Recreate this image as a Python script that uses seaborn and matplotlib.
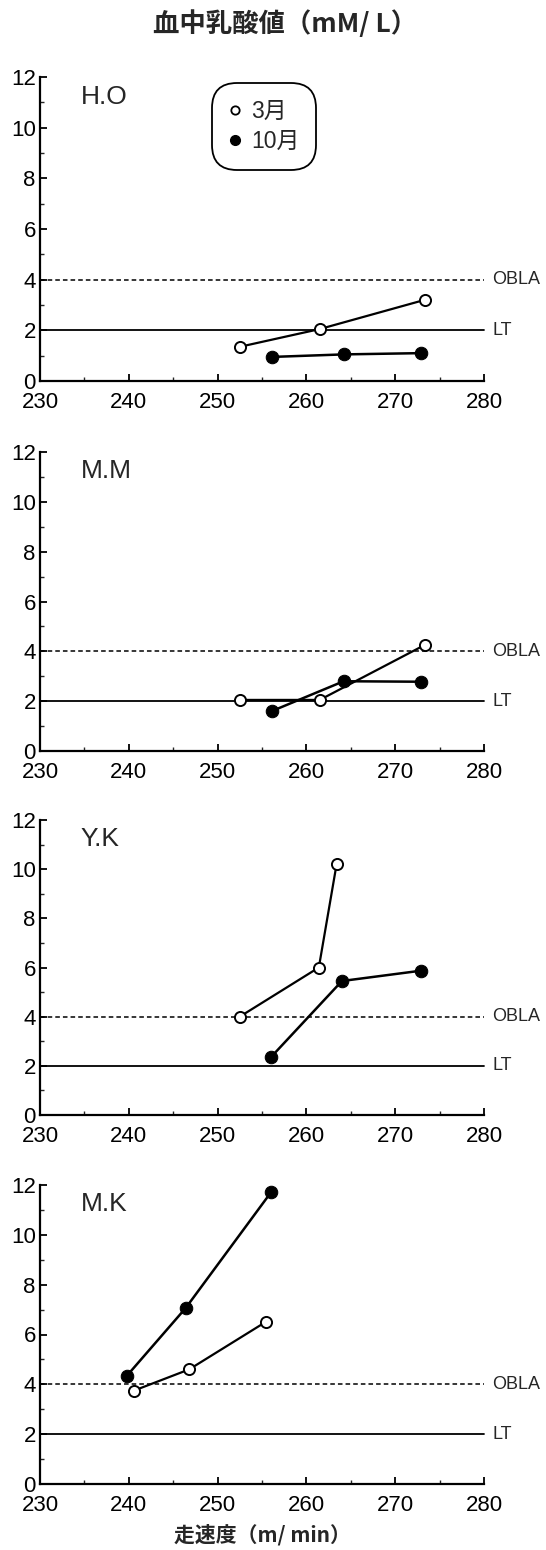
import matplotlib
matplotlib.use("Agg")
import matplotlib.pyplot as plt
from matplotlib.ticker import MultipleLocator
from matplotlib.lines import Line2D
import seaborn as sns
import pandas as pd

sns.set_theme(style="ticks")
plt.rcParams['font.family'] = ['Liberation Sans', 'Noto Sans CJK JP', 'DejaVu Sans']

subjects = ["H.O", "M.M", "Y.K", "M.K"]
months = ["3月", "10月"]

# speed (m/min) and lactate (mM/L) per subject, per month
march_x = {
    "H.O": [252.5, 261.5, 273.3],
    "M.M": [252.5, 261.5, 273.3],
    "Y.K": [252.5, 261.4, 263.4],
    "M.K": [240.6, 246.8, 255.4],
}
march_y = {
    "H.O": [1.35, 2.05, 3.2],
    "M.M": [2.05, 2.05, 4.25],
    "Y.K": [4.0, 6.0, 10.2],
    "M.K": [3.75, 4.6, 6.5],
}
oct_x = {
    "H.O": [256.1, 264.2, 272.9],
    "M.M": [256.1, 264.2, 272.9],
    "Y.K": [256.0, 264.0, 272.9],
    "M.K": [239.8, 246.4, 256.0],
}
oct_y = {
    "H.O": [0.95, 1.05, 1.1],
    "M.M": [1.6, 2.8, 2.78],
    "Y.K": [2.35, 5.45, 5.87],
    "M.K": [4.35, 7.06, 11.7],
}
obla_level = 4
lt_level = 2
x_ticks = [230, 240, 250, 260, 270, 280]
y_ticks = [0, 2, 4, 6, 8, 10, 12]

W, H = 546, 1550
fig = plt.figure(figsize=(W / 100, H / 100), dpi=100)

left = 40 / W
width = (484 - 40) / W
panel_px = [(77, 381), (452, 751), (820, 1115), (1185, 1484)]

for i, subj in enumerate(subjects):
    top_px, bot_px = panel_px[i]
    ax = fig.add_axes([left, 1 - bot_px / H, width, (bot_px - top_px) / H])
    df = pd.DataFrame({
        "speed": march_x[subj] + oct_x[subj],
        "lactate": march_y[subj] + oct_y[subj],
        "month": [months[0]] * 3 + [months[1]] * 3,
    })
    ax.axhline(obla_level, color="black", lw=1.1, ls=(0, (3, 2)), clip_on=False)
    ax.axhline(lt_level, color="black", lw=1.3, ls="-", clip_on=False)
    d3 = df[df.month == months[0]]
    d10 = df[df.month == months[1]]
    sns.lineplot(data=d3, x="speed", y="lactate", ax=ax, color="black", lw=1.6,
                 marker="o", markersize=8, markerfacecolor="white",
                 markeredgecolor="black", markeredgewidth=1.4, sort=False,
                 legend=False, zorder=4)
    sns.lineplot(data=d10, x="speed", y="lactate", ax=ax, color="black", lw=1.8,
                 marker="o", markersize=9, markerfacecolor="black",
                 markeredgecolor="black", sort=False, legend=False, zorder=3)
    ax.set_xlim(230, 280)
    ax.set_ylim(0, 12)
    ax.set_xticks(x_ticks)
    ax.set_yticks(y_ticks)
    ax.xaxis.set_minor_locator(MultipleLocator(5))
    ax.yaxis.set_minor_locator(MultipleLocator(1))
    ax.tick_params(axis="both", which="major", direction="in", length=5, width=1.3,
                   labelsize=16, color="black", labelcolor="black")
    ax.tick_params(axis="x", which="major", pad=8)
    ax.tick_params(axis="y", which="major", pad=3)
    ax.tick_params(axis="both", which="minor", direction="in", length=3, width=1.0)
    for s in ["top", "right"]:
        ax.spines[s].set_visible(False)
    for s in ["left", "bottom"]:
        ax.spines[s].set_linewidth(1.6)
        ax.spines[s].set_color("black")
    ax.set_xlabel("")
    ax.set_ylabel("")
    ax.text(234.6, 11.7, subj, fontsize=19, va="top", ha="left")
    ax.text(280.9, obla_level, "OBLA", fontsize=13, va="center", ha="left", clip_on=False)
    ax.text(281.0, lt_level, "LT", fontsize=13, va="center", ha="left", clip_on=False)

    if i == 0:
        handles = [
            Line2D([], [], ls="none", marker="o", markersize=6, markerfacecolor="white",
                   markeredgecolor="black", markeredgewidth=1.3),
            Line2D([], [], ls="none", marker="o", markersize=7, markerfacecolor="black",
                   markeredgecolor="black"),
        ]
        leg = ax.legend(handles, months, loc="upper left", bbox_to_anchor=(0.387, 0.98),
                        frameon=True, fancybox=True, handlelength=0.5,
                        handletextpad=0.45, borderpad=0.75, labelspacing=0.3,
                        borderaxespad=0,
                        prop={"family": ["Liberation Sans", "Noto Sans CJK JP"], "size": 16.5})
        fr = leg.get_frame()
        fr.set_edgecolor("black")
        fr.set_linewidth(1.3)
        fr.set_facecolor("white")
        fr.set_alpha(1)
        fr.set_boxstyle("round", pad=0.0, rounding_size=1.1)
    if i == 3:
        ax.set_xlabel("走速度（m/ min）", fontsize=15, fontweight="bold",
                      family=["Noto Sans CJK JP", "Liberation Sans"], labelpad=6)

fig.text(285 / W, 1 - 24 / H, "血中乳酸値（mM/ L）", ha="center", va="center",
         fontsize=19, fontweight="bold", family=["Noto Sans CJK JP", "Liberation Sans"])

fig.savefig("out.png", dpi=100)
